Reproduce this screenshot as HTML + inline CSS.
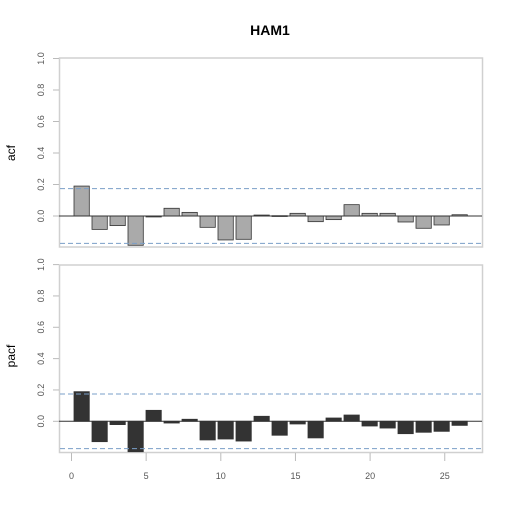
<!DOCTYPE html>
<html><head><meta charset="utf-8"><style>
body{margin:0;background:#fff}
svg{display:block;font-family:"Liberation Sans",sans-serif}
</style></head><body>
<svg id="c" width="512" height="512" viewBox="0 0 512 512">
<text x="270" y="35" text-anchor="middle" font-size="14" font-weight="bold" fill="#000">HAM1</text>
<text transform="translate(15,153) rotate(-90)" text-anchor="middle" font-size="12" fill="#000">acf</text>
<text transform="translate(15,356) rotate(-90)" text-anchor="middle" font-size="12" fill="#000">pacf</text>
</svg>
<script>
const lags=[1,2,3,4,5,6,7,8,9,10,11,12,13,14,15,16,17,18,19,20,21,22];
const acfValues=[0.19,-0.085,-0.061,-0.186,-0.006,0.049,0.023,-0.072,-0.152,-0.148,0.006,0.002,0.017,-0.036,-0.023,0.072,0.017,0.017,-0.038,-0.078,-0.057,0.008];
const pacfValues=[0.189,-0.130,-0.021,-0.194,0.070,-0.011,0.013,-0.119,-0.113,-0.126,0.032,-0.089,-0.017,-0.106,0.021,0.040,-0.030,-0.043,-0.079,-0.070,-0.064,-0.026];
const ciBound=0.174;
const yTicks=[0.0,0.2,0.4,0.6,0.8,1.0];
const xTicks=[0,5,10,15,20,25];
const NS='http://www.w3.org/2000/svg';
const svg=document.getElementById('c');
function mk(t,a){const e=document.createElementNS(NS,t);for(const k in a)e.setAttribute(k,a[k]);svg.appendChild(e);return e;}
const xTick=v=>71.5+v*14.93;
const barLeft=l=>74+(l-1)*18;
function panel(name,vals,zero,unit,top,bottom,fill){
  const y=v=>zero-v*unit;
  const box=mk('rect',{x:59.5,y:top,width:423,height:bottom-top,fill:'none',stroke:'#d0d0d0','stroke-width':1.5});
  
  
  yTicks.forEach(t=>{
    const tl=mk('line',{x1:53,x2:59,y1:y(t),y2:y(t),stroke:'#bbb'});
    
    
    const tx=mk('text',{transform:`translate(44,${y(t)}) rotate(-90)`,'text-anchor':'middle','font-size':9,fill:'#555'});
    tx.textContent=t.toFixed(1);
    
    
  });
  vals.forEach((v,i)=>{
    const y0=Math.min(y(0),y(v)),h=Math.max(Math.abs(y(v)-y(0)),0.8);
    const r=mk('rect',{x:barLeft(lags[i]),y:y0,width:15.3,height:h,fill:fill,stroke:'#333','stroke-width':0.8});
    
    
  });
  const zl=mk('line',{x1:59,x2:482,y1:y(0),y2:y(0),stroke:'#333','stroke-width':1});
  
  
  [ciBound,-ciBound].forEach(c=>{
    const l=mk('line',{x1:60,x2:482,y1:y(c),y2:y(c),stroke:'#7a9fc8','stroke-dasharray':'5,3','stroke-width':1});
    
    
  });
}
panel('acf',acfValues,216,157.5,58,247,'#aaaaaa');
panel('pacf',pacfValues,421.3,156.7,265,452.5,'#333333');
xTicks.forEach(t=>{
  const l=mk('line',{x1:xTick(t),x2:xTick(t),y1:453,y2:461,stroke:'#bbb'});
  
  
  const tx=mk('text',{x:xTick(t),y:479,'text-anchor':'middle','font-size':9,fill:'#555'});
  tx.textContent=t;
  
  
});
</script>
</body></html>
